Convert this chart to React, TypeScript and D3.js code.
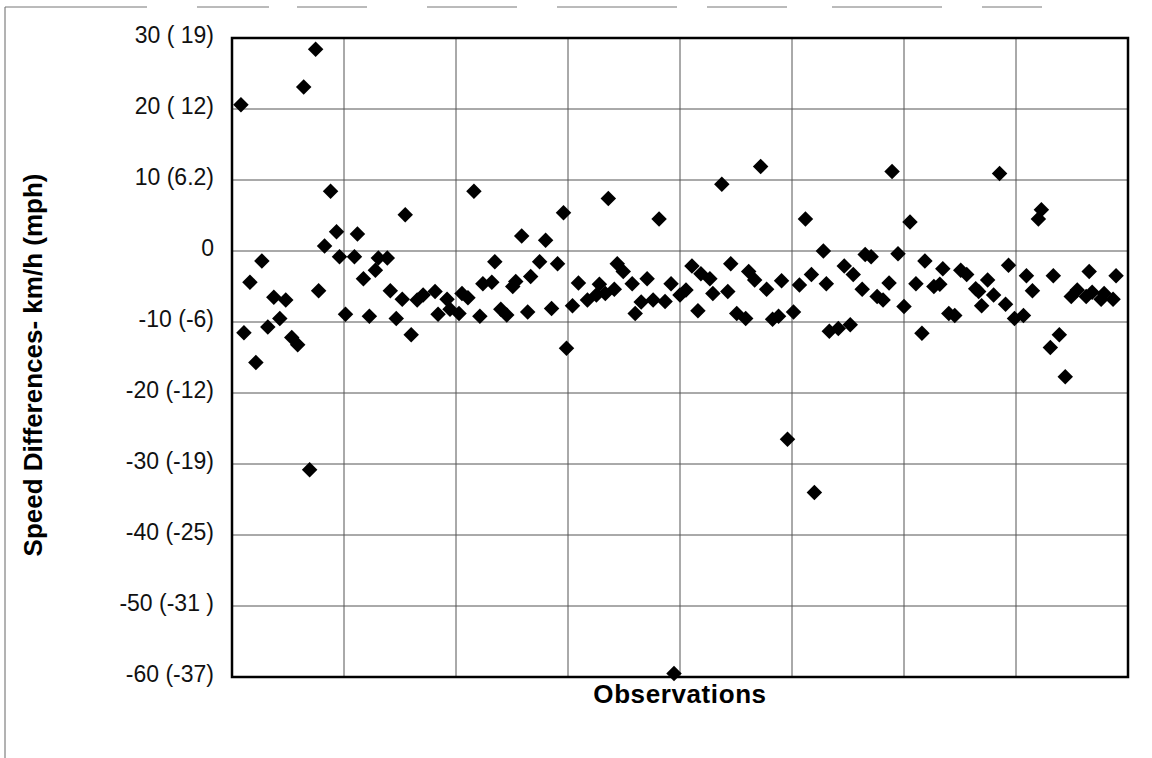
import React, { useEffect, useRef } from 'react';
import * as d3 from 'd3';

const observations = [
  3, 4, 6, 8, 10, 12, 14, 16, 18, 20, 22, 24, 26, 28, 29, 31, 33, 35, 36, 38,
  41, 42, 44, 46, 48, 49, 52, 53, 55, 57, 58, 60, 62, 64, 68, 69, 72, 73, 76, 77,
  79, 81, 83, 84, 87, 88, 90, 92, 94, 95, 97, 99, 100, 103, 105, 107, 109, 111, 112, 114,
  116, 119, 122, 123, 125, 126, 128, 129, 131, 134, 135, 137, 139, 141, 143, 145, 147, 148, 150, 152,
  154, 156, 157, 160, 161, 164, 166, 167, 169, 172, 173, 175, 177, 179, 181, 183, 184, 186, 188, 190,
  192, 194, 195, 198, 199, 200, 203, 205, 207, 208, 211, 212, 214, 216, 218, 220, 221, 223, 225, 227,
  229, 231, 232, 235, 237, 238, 240, 242, 244, 246, 249, 250, 251, 253, 255, 257, 259, 260, 262, 265,
  266, 268, 270, 271, 274, 275, 277, 279, 281, 283, 286, 287, 288, 291, 292, 295, 296,
];

const speedDiff = [
  20.6, -11.5, -4.4, -15.7, -1.4, -10.7, -6.5, -9.5, -6.9, -12.2, -13.2, 23.1, -30.8, 28.4, -5.6, 0.7, 8.4, 2.7, -0.8, -8.9,
  -0.8, 2.4, -3.9, -9.2, -2.7, -1.0, -1.0, -5.6, -9.5, -6.8, 5.1, -11.8, -6.9, -6.2, -5.7, -8.9, -6.8, -8.2, -8.8, -6.0,
  -6.6, 8.4, -9.2, -4.6, -4.4, -1.5, -8.2, -9.0, -5.0, -4.3, 2.1, -8.6, -3.6, -1.5, 1.5, -8.1, -1.8, 5.4, -13.7, -7.7,
  -4.5, -6.9, -6.2, -4.7, -6.0, 7.4, -5.4, -1.8, -2.9, -4.6, -8.8, -7.2, -3.9, -6.9, 4.5, -7.1, -4.6, -59.5, -6.2, -5.5,
  -2.1, -8.4, -3.2, -3.9, -6.0, 9.4, -5.7, -1.8, -8.8, -9.5, -2.9, -4.1, 11.9, -5.4, -9.6, -9.2, -4.2, -26.5, -8.6, -4.8,
  4.5, -3.3, -34.0, 0.0, -4.6, -11.3, -10.9, -2.1, -10.4, -3.3, -5.4, -0.5, -0.8, -6.4, -6.9, -4.5, 11.2, -0.4, -7.8, 4.1,
  -4.6, -11.6, -1.4, -5.0, -4.7, -2.5, -8.8, -9.1, -2.7, -3.3, -5.3, -5.7, -7.7, -4.1, -6.2, 10.9, -7.5, -2.0, -9.5, -9.1,
  -3.5, -5.6, 4.5, 5.8, -13.6, -3.5, -11.8, -17.7, -6.4, -5.5, -6.4, -2.9, -5.8, -6.8, -6.0, -6.8, -3.5,
];

const yTickValues = [30, 20, 10, 0, -10, -20, -30, -40, -50, -60];
const yTickLabels = [
  '30 ( 19)', '20 ( 12)', '10 (6.2)', '0', '-10 (-6)',
  '-20 (-12)', '-30 (-19)', '-40 (-25)', '-50 (-31 )', '-60 (-37)',
];

const W = 1152;
const H = 758;

export default function App() {
  const svgRef = useRef<SVGSVGElement>(null);

  useEffect(() => {
    if (!svgRef.current) return;
    const svg = d3.select(svgRef.current);
    svg.selectAll('*').remove();

    const left = 232;
    const right = 1128;
    const top = 38;
    const bottom = 677;

    const x = d3.scaleLinear().domain([0, 300]).range([left, right]);
    const y = d3.scaleLinear().domain([-60, 30]).range([bottom, top]);

    svg.append('rect').attr('width', W).attr('height', H).attr('fill', '#fff');

    // outer frame of the scanned figure
    svg
      .append('line')
      .attr('x1', 5).attr('x2', 5).attr('y1', 7).attr('y2', H)
      .attr('stroke', '#666').attr('stroke-width', 1);
    svg
      .append('line')
      .attr('x1', 5).attr('x2', W).attr('y1', 7).attr('y2', 7)
      .attr('stroke', '#777').attr('stroke-width', 1)
      .attr('stroke-dasharray', '142,50,72,28,70,60,90,40,120,30,80,45,110,40,60');

    // grid
    const grid = svg.append('g').attr('stroke', '#555').attr('stroke-width', 1);
    grid
      .selectAll('line.h')
      .data(d3.range(-50, 30, 10))
      .enter()
      .append('line')
      .attr('x1', left).attr('x2', right)
      .attr('y1', (d) => y(d)).attr('y2', (d) => y(d));
    grid
      .selectAll('line.v')
      .data(d3.range(37.5, 300, 37.5))
      .enter()
      .append('line')
      .attr('y1', top).attr('y2', bottom)
      .attr('x1', (d) => x(d)).attr('x2', (d) => x(d));

    // plot frame
    svg
      .append('rect')
      .attr('x', left).attr('y', top)
      .attr('width', right - left).attr('height', bottom - top)
      .attr('fill', 'none').attr('stroke', '#000').attr('stroke-width', 2.5);

    // y tick labels
    svg
      .append('g')
      .selectAll('text')
      .data(yTickValues)
      .enter()
      .append('text')
      .attr('x', 214)
      .attr('y', (d) => y(d) + 5)
      .attr('text-anchor', 'end')
      .attr('font-family', 'Liberation Sans, Arial, sans-serif')
      .attr('font-size', 23)
      .attr('fill', '#111')
      .text((_d, i) => yTickLabels[i]);

    // points
    const diamond = d3.symbol().type(d3.symbolSquare).size(120);
    svg
      .append('g')
      .selectAll('path')
      .data(observations)
      .enter()
      .append('path')
      .attr('d', diamond() as string)
      .attr('transform', (d, i) => `translate(${x(d)},${y(speedDiff[i])}) rotate(45)`)
      .attr('fill', '#000');

    // axis titles
    svg
      .append('text')
      .attr('x', 680)
      .attr('y', 703)
      .attr('text-anchor', 'middle')
      .attr('font-family', 'Liberation Sans, Arial, sans-serif')
      .attr('font-weight', 'bold')
      .attr('font-size', 26)
      .attr('letter-spacing', 0.6)
      .attr('fill', '#000')
      .text('Observations');

    svg
      .append('text')
      .attr('transform', 'translate(42,365) rotate(-90)')
      .attr('text-anchor', 'middle')
      .attr('font-family', 'Liberation Sans, Arial, sans-serif')
      .attr('font-weight', 'bold')
      .attr('font-size', 26)
      .attr('fill', '#000')
      .text('Speed Differences- km/h (mph)');
  }, []);

  return (
    <svg
      ref={svgRef}
      width={W}
      height={H}
      style={{ position: 'absolute', left: 0, top: 0, display: 'block' }}
    />
  );
}
